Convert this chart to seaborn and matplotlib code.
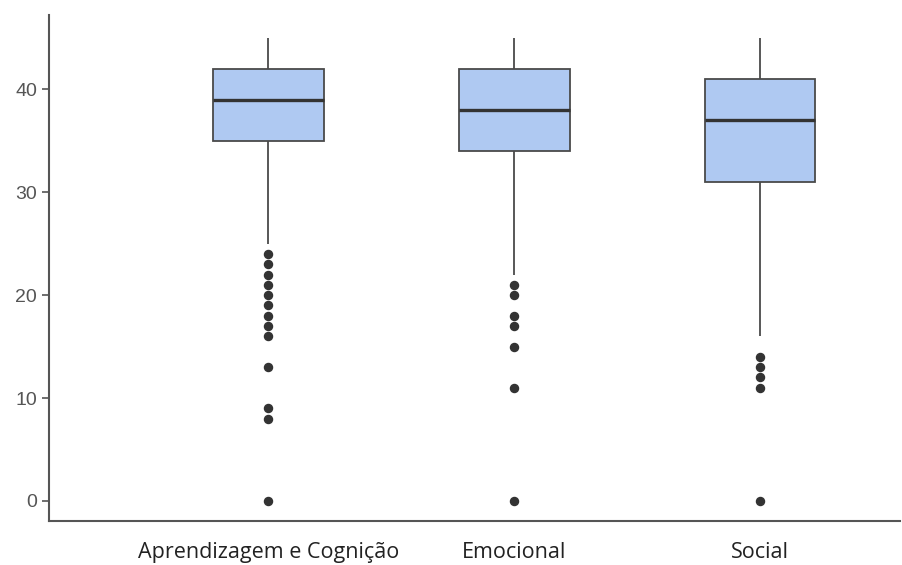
import pandas as pd
import matplotlib.pyplot as plt
import seaborn as sns
import numpy as np

# pontuações por domínio (valor, frequência)
dominios = ["Aprendizagem e Cognição", "Emocional", "Social"]

aprend_valores = [0, 8, 9, 13, 16, 17, 18, 19, 20, 21, 22, 23, 24,
                  25, 30, 35, 37, 39, 40, 42, 44, 45]
aprend_freq = [1, 1, 1, 1, 1, 1, 1, 1, 1, 1, 1, 1, 1,
               1, 7, 10, 14, 11, 14, 11, 10, 10]

emoc_valores = [0, 11, 15, 17, 18, 20, 21,
                22, 28, 34, 36, 38, 40, 42, 44, 45]
emoc_freq = [1, 1, 1, 1, 1, 1, 1,
             1, 12, 11, 14, 11, 14, 11, 10, 10]

social_valores = [0, 11, 12, 13, 14,
                  16, 24, 31, 34, 37, 39, 41, 43, 45]
social_freq = [1, 1, 1, 1, 1,
               1, 14, 11, 14, 11, 14, 11, 10, 10]

yticks = [0, 10, 20, 30, 40]

# montar tabela longa
partes = []
for nome, vals, freq in zip(dominios,
                            [aprend_valores, emoc_valores, social_valores],
                            [aprend_freq, emoc_freq, social_freq]):
    partes.append(pd.DataFrame({"dominio": nome,
                                "pontuacao": np.repeat(vals, freq)}))
df = pd.concat(partes, ignore_index=True)

sns.set_theme(style="ticks")
fig = plt.figure(figsize=(9.02, 5.65), dpi=100)
ax = fig.add_axes([0.054, 0.078, 0.944, 0.895])

sns.boxplot(data=df, x="dominio", y="pontuacao", order=dominios, ax=ax,
            color="#afc9f2", saturation=1, width=0.45,
            linecolor="#4a4a4a", linewidth=1.3, showcaps=False,
            medianprops=dict(color="#333333", linewidth=2.4),
            flierprops=dict(marker="o", markerfacecolor="#333333",
                            markeredgecolor="#333333", markersize=5.8))

ax.set_xlim(-0.894, 2.57)
ax.set_ylim(-1.94, 47.2)
ax.set_yticks(yticks)
ax.set_xlabel("")
ax.set_ylabel("")

for s in ["top", "right"]:
    ax.spines[s].set_visible(False)
for s in ["left", "bottom"]:
    ax.spines[s].set_color("#555555")
    ax.spines[s].set_linewidth(1.5)

ax.tick_params(axis="y", length=5, width=1.2, color="#555555",
               labelsize=14, labelcolor="#555555")
ax.tick_params(axis="x", length=0, pad=15, labelsize=15.5, labelcolor="#222222")
for lab in ax.get_yticklabels():
    lab.set_family("Liberation Sans")
for lab in ax.get_xticklabels():
    lab.set_family("Open Sans")

plt.savefig("out.png", dpi=100)
